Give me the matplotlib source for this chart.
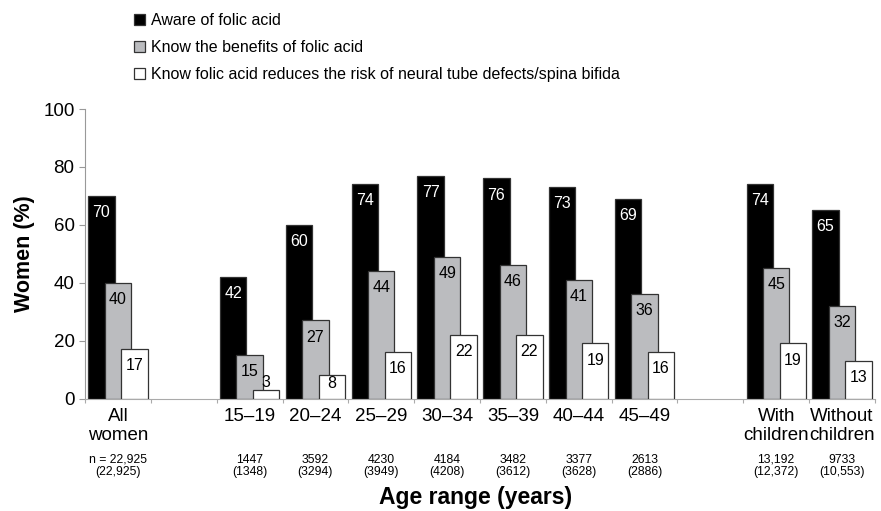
import numpy as np
import matplotlib.pyplot as plt
from matplotlib.patches import Patch

plt.rcParams['font.family'] = ['Liberation Sans', 'DejaVu Sans']

groups = ['All\nwomen', '15–19', '20–24', '25–29', '30–34', '35–39',
          '40–44', '45–49', 'With\nchildren', 'Without\nchildren']
slots = [0, 2, 3, 4, 5, 6, 7, 8, 10, 11]   # empty slots 1 and 9 are gaps
aware = [70, 42, 60, 74, 77, 76, 73, 69, 74, 65]
benefits = [40, 15, 27, 44, 49, 46, 41, 36, 45, 32]
ntd = [17, 3, 8, 16, 22, 22, 19, 16, 19, 13]
n_labels = ['n = 22,925\n(22,925)', '1447\n(1348)', '3592\n(3294)', '4230\n(3949)',
            '4184\n(4208)', '3482\n(3612)', '3377\n(3628)', '2613\n(2886)',
            '13,192\n(12,372)', '9733\n(10,553)']
series_names = ['Aware of folic acid',
                'Know the benefits of folic acid',
                'Know folic acid reduces the risk of neural tube defects/spina bifida']

fig = plt.figure(figsize=(8.81, 5.11), dpi=100)
ax = fig.add_axes([85/881, 1-398.5/511, 790/881, 289.5/511])

x = np.array(slots)
colors = ['#000000', '#bbbcbf', '#ffffff']
txtcol = ['white', 'black', 'black']
offs = [-0.25, 0.0, 0.25]
for i, vals in enumerate([aware, benefits, ntd]):
    bars = ax.bar(x + offs[i], vals, width=0.4, color=colors[i],
                  edgecolor='#333333', linewidth=0.9, zorder=2+i)
    for b, v in zip(bars, vals):
        cx = b.get_x() + b.get_width()/2
        if v < 5:
            # too short: label sits on top of the bar
            ax.annotate(str(v), (cx, v), xytext=(0, 0), textcoords='offset points',
                        ha='center', va='bottom', fontsize=11.5, color=txtcol[i], zorder=10)
        elif v < 10:
            ax.annotate(str(v), (cx, v), xytext=(0, -6), textcoords='offset points',
                        ha='center', va='center', fontsize=11.5, color=txtcol[i], zorder=10)
        else:
            ax.annotate(str(v), (cx, v), xytext=(0, -12), textcoords='offset points',
                        ha='center', va='center', fontsize=11.5, color=txtcol[i], zorder=10)

ax.set_xlim(-0.5, 11.5)
ax.set_ylim(0, 100)
ax.set_yticks([0, 20, 40, 60, 80, 100])
ax.tick_params(axis='y', labelsize=13.5, color='#999999', length=4.5, pad=3)
ax.set_xticks(np.arange(-0.5, 12, 1))
ax.set_xticklabels([])
ax.tick_params(axis='x', which='major', color='#aaaaaa', length=3)
ax.set_xticks(x, groups, minor=True)
ax.tick_params(axis='x', which='minor', length=0, labelsize=13.5, pad=6.5)

for s in ['top', 'right']:
    ax.spines[s].set_visible(False)
ax.spines['left'].set_color('#999999')
ax.spines['bottom'].set_color('#aaaaaa')

for xi, lab in zip(x, n_labels):
    ax.text(xi, -0.19, lab, transform=ax.get_xaxis_transform(), ha='center',
            va='top', fontsize=8.8, linespacing=1.1)

ax.set_ylabel('Women (%)', fontsize=15.5, fontweight='bold')
ax.yaxis.set_label_coords(-0.063, 0.5)
fig.text(476/881, 1-497/511, 'Age range (years)', ha='center', va='center',
         fontsize=16.5, fontweight='bold')

handles = [Patch(facecolor=c, edgecolor='#333333', linewidth=0.9) for c in colors]
fig.legend(handles, series_names, loc='upper left', bbox_to_anchor=(128/881, 1-7/511),
           frameon=False, fontsize=11.5, handlelength=0.65, handleheight=0.65,
           handletextpad=0.4, labelspacing=0.75, borderaxespad=0)

plt.savefig('out.png', dpi=100)
